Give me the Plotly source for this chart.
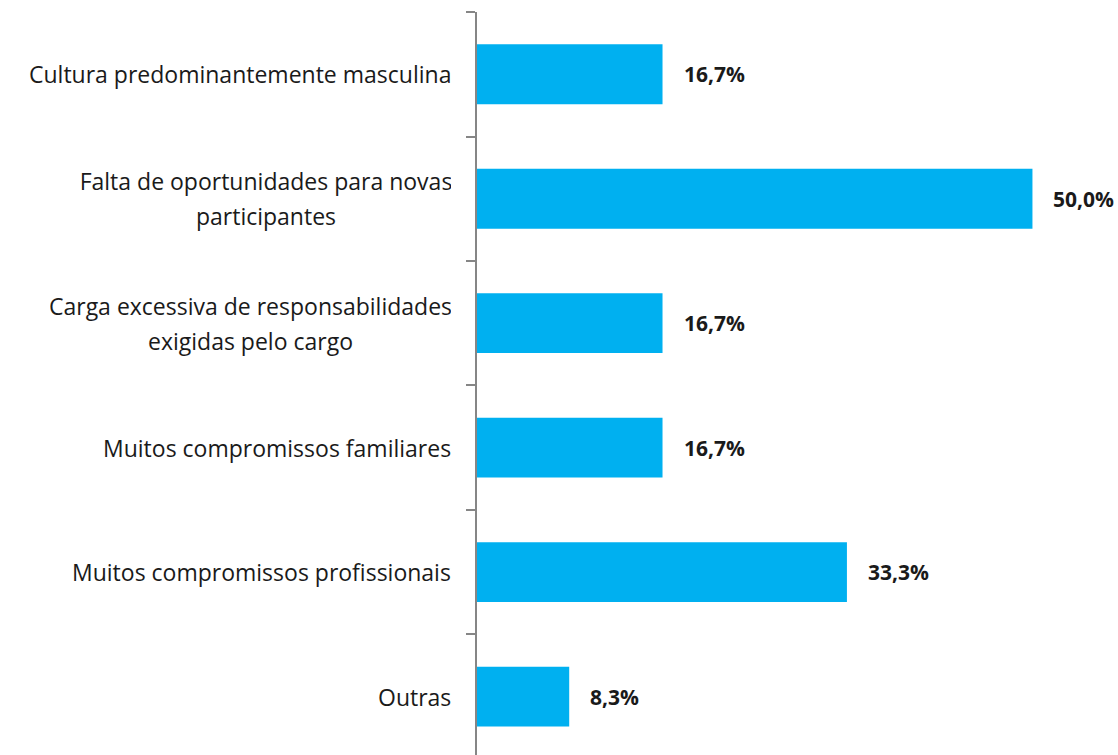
import plotly.graph_objects as go

categories = [
    "Cultura predominantemente masculina",
    "Falta de oportunidades para novas<br>participantes",
    "Carga excessiva de responsabilidades<br>exigidas pelo cargo",
    "Muitos compromissos familiares",
    "Muitos compromissos profissionais",
    "Outras",
]
values = [16.7, 50.0, 16.7, 16.7, 33.3, 8.3]
value_labels = ["16,7%", "50,0%", "16,7%", "16,7%", "33,3%", "8,3%"]

BAR_COLOR = "#00B0F0"
FONT = "Open Sans"
TEXT_COLOR = "#1a1a1a"
LABEL_SIZE = 23
LINE_GAP = 35      # px between wrapped label lines
LABEL_PAD = 24     # px between label block and axis
# rendered width of the widest line of each wrapped label (px)
BLOCK_WIDTH = {1: 370, 2: 401}

fig = go.Figure(
    go.Bar(
        x=values,
        y=list(range(len(categories))),
        orientation="h",
        marker=dict(color=BAR_COLOR, line=dict(width=0)),
        width=0.48,
        hoverinfo="skip",
    )
)

# category labels left of the axis; wrapped lines centred within their block
for i, cat in enumerate(categories):
    lines = cat.split("<br>")
    n = len(lines)
    for j, line in enumerate(lines):
        kw = dict(width=BLOCK_WIDTH[i], align="center") if n > 1 else {}
        fig.add_annotation(
            x=0, y=i, xref="x", yref="y", text=line, showarrow=False,
            xanchor="right", yanchor="middle",
            xshift=-LABEL_PAD, yshift=((n - 1) / 2 - j) * LINE_GAP,
            font=dict(family=FONT, size=LABEL_SIZE, color=TEXT_COLOR),
            **kw,
        )

# value labels just past each bar end
for i, (v, lab) in enumerate(zip(values, value_labels)):
    fig.add_annotation(
        x=v, y=i, xref="x", yref="y", text=f"<b>{lab}</b>", showarrow=False,
        xanchor="left", yanchor="middle", xshift=19,
        font=dict(family=FONT, size=21, color=TEXT_COLOR),
    )

fig.update_layout(
    width=1118, height=755,
    margin=dict(l=477, r=30, t=12, b=0),
    plot_bgcolor="white", paper_bgcolor="white",
    showlegend=False,
    xaxis=dict(range=[0, 55], visible=False),
    yaxis=dict(
        range=[5.468, -0.5],
        tickmode="array",
        tickvals=[i - 0.5 for i in range(len(categories) + 1)],
        showticklabels=False,
        ticks="outside", ticklen=9, tickcolor="#868686", tickwidth=1.5,
        showline=True, linecolor="#868686", linewidth=1.5,
        showgrid=False, zeroline=False,
    ),
)

fig.write_html("out.html")
